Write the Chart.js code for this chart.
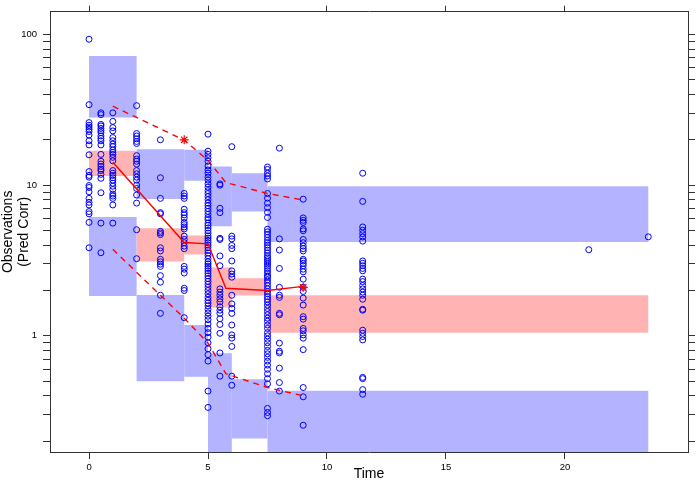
<!DOCTYPE html>
<html>
<head>
<meta charset="utf-8">
<script src="https://cdn.jsdelivr.net/npm/chart.js@4.4.1/dist/chart.umd.min.js"></script>
<style>
  body { margin: 0; background: #fff; }
  canvas { display: block; }
</style>
</head>
<body>
<canvas id="vpc" width="697" height="481"></canvas>
<script>
// prediction interval bins (time) and box limits
const binEdges = [0, 2, 4, 5, 6, 7.5, 23.5];
const upperTop = [72, 17.3, 17.2, 13.3, 12.0, 9.84];
const upperBot = [28.1, 8.09, 10.7, 5.33, 6.69, 4.19];
const medTop = [16.9, 5.17, 4.63, 2.84, 2.41, 1.86];
const medBot = [11.5, 3.11, 3.46, 1.54, 1.85, 1.05];
const lowerTop = [6.14, 1.87, 1.18, 0.766, 0.515, 0.432];
const lowerBot = [1.84, 0.50, 0.535, 0.1, 0.208, 0.1];

// observed percentiles
const pctTime = [1, 4, 5, 5.75, 7.5, 9];
const obsMedian = [14.2, 4.16, 4.08, 2.07, 2.0, 2.13];
const obsHigh = [33.4, 19.9, 14.6, 10.4, 8.81, 7.96];
const obsLow = [3.75, 1.31, 0.895, 0.56, 0.454, 0.40];
const outTime = [4, 9];
const outValue = [20, 2.1];

// observations (pred corr) by sampling time
const obsTimes = [0, 0.5, 1, 2, 3, 4, 5, 5.5, 6, 7.5, 8, 9, 11.5, 21, 23.5];
const obs_t0 = [93, 34.2, 26, 25, 24.3, 23.5, 22.7, 21.5, 19.7, 18.5, 15.9, 12.3, 11.6, 11.3, 9.94, 9.65, 9.03, 8.17, 7.69, 7.39, 6.68, 6.45, 5.66, 3.84];
const obs_t05 = [30.2, 29.4, 25.3, 24.7, 23.8, 23.0, 22.3, 21.2, 20.4, 19.7, 18.5, 16.0, 14.4, 13.8, 13.3, 12.8, 12.5, 11.8, 11.1, 8.9, 5.6, 3.56];
const obs_t1 = [30.2, 26.5, 24.1, 22.9, 20.7, 19.7, 18.7, 18.0, 17.1, 16.5, 16.0, 15.3, 14.5, 12.5, 12.0, 11.6, 11.2, 10.8, 10.3, 9.84, 9.36, 8.72, 8.46, 8.17, 7.39, 5.6];
const obs_t2 = [33.7, 22.0, 21.2, 20.3, 19.5, 18.9, 15.7, 14.9, 14.4, 13.8, 12.5, 11.9, 11.3, 10.8, 10.0, 9.5, 8.6, 7.6, 5.06, 3.25];
const obs_t3 = [20.0, 11.2, 8.17, 6.57, 6.45, 4.94, 4.82, 4.70, 3.84, 3.66, 3.22, 3.10, 2.99, 2.89, 2.51, 2.27, 1.86, 1.41];
const obs_t4 = [8.81, 8.46, 8.17, 6.92, 6.57, 6.35, 6.06, 5.66, 5.47, 5.28, 5.12, 4.59, 4.36, 4.15, 3.94, 3.79, 2.89, 2.77, 2.61, 2.07, 2.0, 1.32];
const obs_t5 = [21.8, 16.8, 16.0, 15.2, 14.4, 13.4, 12.6, 12.0, 11.3, 10.8, 10.2, 9.7, 9.2, 8.8, 8.4, 8.0, 7.6, 7.3, 7.0, 6.7, 6.4, 6.1, 5.9, 5.6, 5.4, 5.2, 5.0, 4.8, 4.6, 4.45, 4.3, 4.15, 4.0, 3.85, 3.7, 3.55, 3.4, 3.25, 3.1, 3.0, 2.9, 2.8, 2.7, 2.6, 2.5, 2.4, 2.3, 2.2, 2.1, 2.0, 1.9, 1.8, 1.72, 1.65, 1.58, 1.5, 1.42, 1.35, 1.28, 1.2, 1.12, 1.05, 0.98, 0.9, 0.82, 0.75, 0.68, 0.43, 0.335];
const obs_t55 = [10.2, 10.0, 7.02, 6.57, 4.44, 4.36, 3.39, 2.92, 2.05, 1.95, 1.86, 1.76, 1.68, 1.56, 1.48, 1.41, 1.30, 1.19, 1.04, 0.77, 0.54];
const obs_t6 = [18.0, 4.59, 4.40, 3.98, 3.79, 3.14, 2.70, 2.57, 2.45, 1.86, 1.63, 1.52, 1.41, 1.18, 1.015, 0.965, 0.85, 0.54, 0.47];
const obs_t75 = [13.2, 12.7, 12.0, 11.5, 11.0, 8.8, 8.2, 7.6, 7.1, 6.6, 6.1, 5.1, 4.9, 4.7, 4.5, 4.3, 4.15, 4.0, 3.85, 3.7, 3.55, 3.4, 3.3, 3.2, 3.1, 3.0, 2.9, 2.8, 2.7, 2.6, 2.5, 2.45, 2.35, 2.25, 2.15, 2.05, 1.97, 1.9, 1.82, 1.75, 1.68, 1.6, 1.52, 1.45, 1.38, 1.31, 1.25, 1.18, 1.12, 1.05, 1.0, 0.95, 0.9, 0.85, 0.8, 0.76, 0.72, 0.68, 0.64, 0.6, 0.56, 0.52, 0.48, 0.33, 0.31, 0.295];
const obs_t8 = [17.6, 4.4, 3.71, 2.8, 2.1, 1.86, 1.8, 1.41, 1.38, 0.895, 0.79, 0.77, 0.61, 0.49, 0.43];
const obs_t9 = [8.07, 6.06, 5.84, 5.66, 5.12, 4.98, 4.36, 4.15, 3.94, 3.79, 3.66, 3.22, 3.14, 3.03, 2.92, 2.77, 2.66, 2.38, 2.10, 1.97, 1.78, 1.6, 1.34, 1.29, 1.12, 1.08, 1.015, 0.965, 0.81, 0.454, 0.394, 0.255];
const obs_t115 = [12.0, 7.8, 5.28, 5.02, 4.77, 4.53, 4.25, 3.14, 3.03, 2.92, 2.80, 2.70, 2.38, 2.29, 2.16, 2.05, 1.95, 1.86, 1.75, 1.50, 1.48, 1.09, 1.04, 0.99, 0.94, 0.53, 0.52, 0.44, 0.41];
const obs_t21 = [3.73];
const obs_t235 = [4.54];
const obsCols = [obs_t0, obs_t05, obs_t1, obs_t2, obs_t3, obs_t4, obs_t5, obs_t55, obs_t6, obs_t75, obs_t8, obs_t9, obs_t115, obs_t21, obs_t235];

// axes
const xTicks = [0, 5, 10, 15, 20];
const yTickLabels = [1, 10, 100];
const yTicks = [0.2, 0.3, 0.4, 0.5, 0.6, 0.7, 0.8, 0.9, 1, 2, 3, 4, 5, 6, 7, 8, 9, 10, 20, 30, 40, 50, 60, 70, 80, 90, 100];
const xMin = -1.64, xMax = 25.17;
const yMin = 0.1695, yMax = 141.6;

const blueBox = 'rgb(179,179,255)';
const pinkBox = 'rgb(255,179,179)';
const frame = '#333';
const font = "'Liberation Sans', Arial, sans-serif";

const datasets = [];

function addBoxes(lo, hi, color) {
    for (let i = 0; i < binEdges.length - 1; i++) {
        const x0 = binEdges[i], x1 = binEdges[i + 1];
        datasets.push({
            type: 'line',
            data: [{x: x0, y: lo[i]}, {x: x1, y: lo[i]}, {x: x1, y: hi[i]}, {x: x0, y: hi[i]}],
            fill: 'shape',
            backgroundColor: color,
            borderWidth: 0,
            borderColor: 'rgba(0,0,0,0)',
            pointRadius: 0,
            order: 3
        });
    }
}
addBoxes(upperBot, upperTop, blueBox);
addBoxes(medBot, medTop, pinkBox);
addBoxes(lowerBot, lowerTop, blueBox);

const points = [];
obsTimes.forEach((t, i) => {
    obsCols[i].forEach(v => points.push({x: t, y: v}));
});
datasets.push({
    type: 'scatter',
    data: points,
    pointStyle: 'circle',
    pointRadius: 3,
    pointBorderWidth: 1,
    pointBorderColor: '#0000ff',
    pointBackgroundColor: 'rgba(0,0,0,0)',
    order: 2
});

function pctLine(vals, dash) {
    datasets.push({
        type: 'line',
        data: pctTime.map((t, i) => ({x: t, y: vals[i]})),
        borderColor: '#ff0000',
        borderWidth: 1.4,
        borderDash: dash,
        fill: false,
        pointRadius: 0,
        order: 1
    });
}
pctLine(obsMedian, []);
pctLine(obsHigh, [6, 5]);
pctLine(obsLow, [6, 5]);

datasets.push({
    type: 'scatter',
    data: outTime.map((t, i) => ({x: t, y: outValue[i]})),
    pointStyle: 'star',
    pointRadius: 4.5,
    pointBorderWidth: 1.2,
    pointBorderColor: '#ff0000',
    pointBackgroundColor: '#ff0000',
    order: 0
});

const tickFont = {family: font, size: 9.5};

new Chart(document.getElementById('vpc'), {
    type: 'line',
    data: {datasets: datasets},
    options: {
        responsive: false,
        animation: false,
        layout: {padding: 0},
        plugins: {legend: {display: false}, tooltip: {enabled: false}},
        scales: {
            x: {
                type: 'linear', position: 'bottom', min: xMin, max: xMax,
                afterBuildTicks: s => { s.ticks = xTicks.map(v => ({value: v})); },
                afterFit: s => { s.height = 29; },
                ticks: {font: tickFont, color: '#000', padding: 3, maxRotation: 0, autoSkip: false},
                grid: {drawOnChartArea: false, tickLength: 7, tickColor: frame},
                border: {color: frame, width: 1},
                title: {display: true, text: 'Time', color: '#000', font: {family: font, size: 14, lineHeight: 1}, padding: {top: 0, bottom: 0}}
            },
            x2: {
                type: 'linear', axis: 'x', position: 'top', min: xMin, max: xMax,
                afterBuildTicks: s => { s.ticks = xTicks.map(v => ({value: v})); },
                afterFit: s => { s.height = 6; },
                ticks: {display: false},
                grid: {drawOnChartArea: false, tickLength: 6, tickColor: frame},
                border: {color: frame, width: 1}
            },
            y: {
                type: 'logarithmic', position: 'left', min: yMin, max: yMax,
                afterBuildTicks: s => { s.ticks = yTicks.map(v => ({value: v})); },
                afterFit: s => { s.width = 50; },
                ticks: {
                    font: tickFont, color: '#000', padding: 6, autoSkip: false,
                    callback: v => yTickLabels.includes(v) ? String(v) : ''
                },
                grid: {drawOnChartArea: false, tickLength: 7, tickColor: frame},
                border: {color: frame, width: 1},
                title: {display: true, text: ['Observations', '(Pred Corr)'], color: '#000', font: {family: font, size: 14, lineHeight: 1.15}, padding: {top: 0, bottom: 0}}
            },
            y2: {
                type: 'logarithmic', axis: 'y', position: 'right', min: yMin, max: yMax,
                afterBuildTicks: s => { s.ticks = yTicks.map(v => ({value: v})); },
                afterFit: s => { s.width = 9; },
                ticks: {display: false},
                grid: {drawOnChartArea: false, tickLength: 7, tickColor: frame},
                border: {color: frame, width: 1}
            }
        }
    }
});
</script>
</body>
</html>
